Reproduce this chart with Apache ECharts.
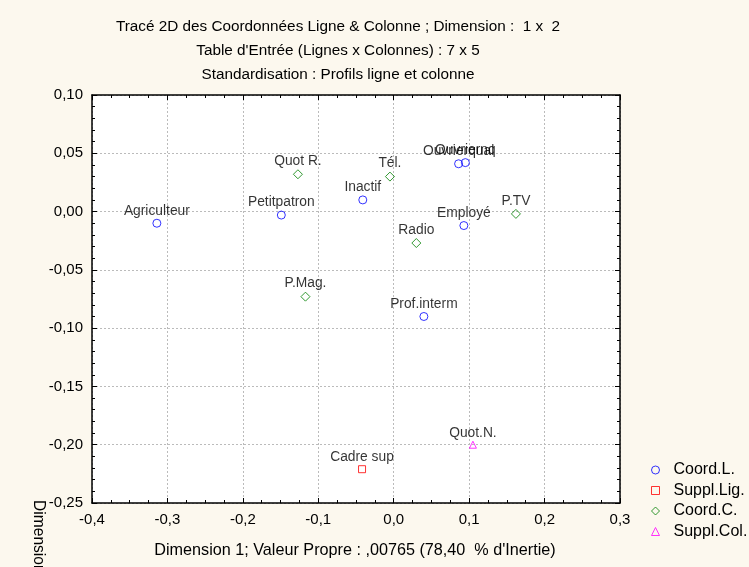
<!DOCTYPE html>
<html>
<head>
<meta charset="utf-8">
<script src="https://cdn.jsdelivr.net/npm/echarts@6/dist/echarts.min.js"></script>
<style>
  html, body { margin: 0; padding: 0; background: #fcf8ee; }
  #chart { width: 749px; height: 567px; }
</style>
</head>
<body>
<div id="chart"></div>
<script>
// coordonnées lignes (actives)
var rowNames = ["Agriculteur", "Petitpatron", "Inactif", "Ouvrierqual", "Ouvriernq", "Employé", "Prof.interm"];
var rowX = [-0.314, -0.149, -0.041, 0.086, 0.095, 0.093, 0.040];
var rowY = [-0.010, -0.003, 0.010, 0.041, 0.042, -0.012, -0.090];

// ligne supplémentaire
var suppRowNames = ["Cadre sup"];
var suppRowX = [-0.042];
var suppRowY = [-0.221];

// coordonnées colonnes (actives)
var colNames = ["Quot R.", "Tél.", "P.TV", "Radio", "P.Mag."];
var colX = [-0.127, -0.005, 0.162, 0.030, -0.117];
var colY = [0.032, 0.030, -0.002, -0.027, -0.073];

// colonne supplémentaire
var suppColNames = ["Quot.N."];
var suppColX = [0.105];
var suppColY = [-0.200];

function pts(names, xs, ys) {
  return names.map(function (n, i) { return [xs[i], ys[i], n]; });
}

var frFmt = function (d) {
  return function (v) { return v.toFixed(d).replace(".", ","); };
};

var myChart = echarts.init(document.getElementById("chart"));

var labelOpt = {
  show: true,
  position: "top",
  distance: 1,
  color: "#000",
  fontSize: 13.8,
  fontFamily: "Liberation Sans, Arial",
  formatter: function (p) { return p.data[2]; }
};

function serie(name, data, symbol, size, color) {
  return {
    name: name,
    type: "scatter",
    data: data,
    symbol: symbol,
    symbolSize: size,
    itemStyle: { color: "rgba(255,255,255,0)", borderColor: color, borderWidth: 1 },
    label: labelOpt,
    emphasis: { disabled: true }
  };
}

var axisCommon = {
  type: "value",
  axisLine: { show: true, onZero: false, lineStyle: { color: "#000", width: 1.5 } },
  axisTick: { show: true, inside: true, length: 5, lineStyle: { color: "#000" } }
};

var xBase = { min: -0.4, max: 0.3, interval: 0.1 };
var yBase = { min: -0.25, max: 0.1, interval: 0.05 };
var font = "Liberation Sans, Arial";

myChart.setOption({
  backgroundColor: "#fcf8ee",
  animation: false,
  textStyle: { fontFamily: font },
  grid: { left: 92, right: 129, top: 95, bottom: 64, show: true, backgroundColor: "#fff", borderWidth: 0 },
  xAxis: [
    Object.assign({}, axisCommon, xBase, {
      position: "bottom",
      minorTick: { show: true, splitNumber: 4, length: 3, lineStyle: { color: "#000" } },
      axisLabel: { color: "#000", fontSize: 15, margin: 9, formatter: frFmt(1) },
      splitLine: { show: true, lineStyle: { color: "#bbb", type: [2, 2] } }
    }),
    Object.assign({}, axisCommon, xBase, {
      position: "top",
      minorTick: { show: true, splitNumber: 4, length: 3, lineStyle: { color: "#000" } },
      axisLabel: { show: false },
      splitLine: { show: false }
    })
  ],
  yAxis: [
    Object.assign({}, axisCommon, yBase, {
      position: "left",
      minorTick: { show: true, splitNumber: 5, length: 3, lineStyle: { color: "#000" } },
      axisLabel: { color: "#000", fontSize: 15, margin: 9, formatter: frFmt(2) },
      splitLine: { show: true, lineStyle: { color: "#bbb", type: [2, 2] } }
    }),
    Object.assign({}, axisCommon, yBase, {
      position: "right",
      minorTick: { show: true, splitNumber: 5, length: 3, lineStyle: { color: "#000" } },
      axisLabel: { show: false },
      splitLine: { show: false }
    })
  ],
  legend: {
    orient: "vertical",
    left: 646,
    top: 457,
    itemWidth: 8,
    itemHeight: 8,
    itemGap: 4.5,
    itemStyle: { borderWidth: 1 },
    textStyle: { color: "#000", fontSize: 16, lineHeight: 15.5, padding: [0, 0, 0, 9] },
    data: ["Coord.L.", "Suppl.Lig.", "Coord.C.", "Suppl.Col."]
  },
  graphic: [
    { type: "text", x: 338, y: 27, style: { text: "Tracé 2D des Coordonnées Ligne & Colonne ; Dimension :  1 x  2", fill: "#000", font: "15.3px " + font, textAlign: "center", textVerticalAlign: "middle" } },
    { type: "text", x: 338, y: 51, style: { text: "Table d'Entrée (Lignes x Colonnes) : 7 x 5", fill: "#000", font: "15.3px " + font, textAlign: "center", textVerticalAlign: "middle" } },
    { type: "text", x: 338, y: 75, style: { text: "Standardisation : Profils ligne et colonne", fill: "#000", font: "15.3px " + font, textAlign: "center", textVerticalAlign: "middle" } },
    { type: "text", x: 355, y: 551, style: { text: "Dimension 1; Valeur Propre : ,00765 (78,40  % d'Inertie)", fill: "#000", font: "16.2px " + font, textAlign: "center", textVerticalAlign: "middle" } },
    { type: "text", x: 46, y: 500, rotation: -Math.PI / 2, style: { text: "Dimension 2", fill: "#000", font: "15.6px " + font, textAlign: "left", textVerticalAlign: "top" } }
  ],
  series: [
    serie("Coord.L.", pts(rowNames, rowX, rowY), "circle", 8, "#0000ff"),
    serie("Suppl.Lig.", pts(suppRowNames, suppRowX, suppRowY), "rect", 7, "#ff0000"),
    serie("Coord.C.", pts(colNames, colX, colY), "diamond", 9, "#008000"),
    serie("Suppl.Col.", pts(suppColNames, suppColX, suppColY), "triangle", 7, "#ff00ff")
  ]
});
</script>
</body>
</html>
